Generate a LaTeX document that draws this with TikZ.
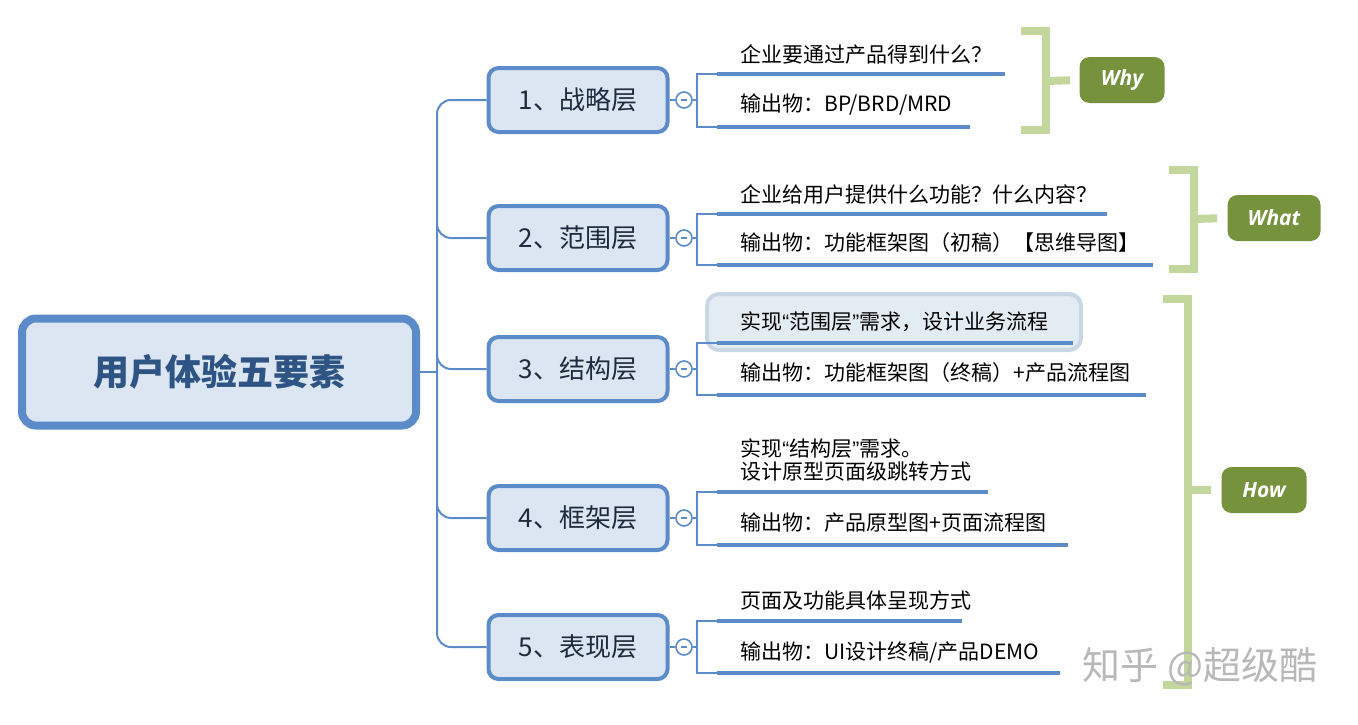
\documentclass[tikz,border=0pt]{standalone}
\usepackage{fontspec}
\setmainfont{Noto Sans CJK SC}
\newfontfamily\tagfont{Open Sans}
\newfontfamily\qfont{Liberation Sans}

\definecolor{bline}{HTML}{5B8CC9}
\definecolor{bfill}{HTML}{DCE6F2}
\definecolor{rtext}{HTML}{2E5484}
\definecolor{btext}{HTML}{1E2B3C}
\definecolor{gline}{HTML}{C3D69B}
\definecolor{gfill}{HTML}{76923C}
\definecolor{hfill}{HTML}{E4ECF3}
\definecolor{hline}{HTML}{C9D7E4}
\definecolor{wmark}{HTML}{B8B8B8}

\tikzstyle{r} = [draw = bline, line width = 4pt, fill = bfill, rounded corners = 7pt, minimum width = 197pt, minimum height = 53.5pt, text = rtext, font = \fontsize{18}{20}\selectfont\bfseries]
\tikzstyle{b} = [draw = bline, line width = 2pt, fill = bfill, rounded corners = 5pt, minimum width = 89.5pt, minimum height = 32pt, text = btext, font = \fontsize{13}{15}\selectfont]
\tikzstyle{o} = [circle, draw = bline, line width = 0.8pt, fill = white, minimum size = 8pt, inner sep = 0pt, path picture = {\draw [bline, line width = 0.6pt] ([xshift = -1.6pt]path picture bounding box.center) -- ([xshift = 1.6pt]path picture bounding box.center);}]
\tikzstyle{t} = [anchor = west, inner sep = 0pt, text = black, font = \fontsize{10.5}{11.5}\selectfont]
\tikzstyle{u} = [draw = bline, line width = 2pt]
\tikzstyle{l} = [draw = bline, line width = 1pt]
\tikzstyle{h} = [draw = hline, line width = 2pt, fill = hfill, rounded corners = 6pt, minimum width = 187pt, minimum height = 28pt]
\tikzstyle{g} = [draw = gline, line width = 4pt]
\tikzstyle{w} = [fill = gfill, rounded corners = 5pt, text = white, minimum width = 42.5pt, minimum height = 23pt, font = \tagfont\bfseries\itshape\fontsize{10.5}{12}\selectfont]

\begin{document}
\begin{tikzpicture}[x = 0.5pt, y = -0.5pt]
    \useasboundingbox (0,0) rectangle (1358,724);

    % root and layers
    \node (root) [r] at (219,372) {用户体验五要素};
    \node (b1) [b] at (578,100) {1、战略层};
    \node (b2) [b] at (578,238) {2、范围层};
    \node (b3) [b] at (578,369) {3、结构层};
    \node (b4) [b] at (578,518) {4、框架层};
    \node (b5) [b] at (578,647) {5、表现层};

    % trunk
    \coordinate (tr) at (437,372);
    \coordinate (t2) at (437,222);
    \coordinate (t3) at (437,355);
    \coordinate (t4) at (437,502);
    \draw [l] (root.east) -- (tr);
    \draw [l, rounded corners = 7pt] (b1.west) -| (tr) |- (b5.west);
    \draw [l, rounded corners = 7pt] (t2) |- (b2.west);
    \draw [l, rounded corners = 7pt] (t3) |- (b3.west);
    \draw [l, rounded corners = 7pt] (t4) |- (b4.west);

    % collapse marks
    \node (c1) [o] at (684,100) {};
    \node (c2) [o] at (684,238) {};
    \node (c3) [o] at (684,369) {};
    \node (c4) [o] at (684,518) {};
    \node (c5) [o] at (684,647) {};

    % highlight behind 3
    \node (hl) [h] at (894,322) {};

    % topics
    \node (s1a) [t] at (740,54) {企业要通过产品得到什么？};
    \node (s1b) [t] at (740,105) {输出物：BP/BRD/MRD};
    \node (s2a) [t] at (740,194) {企业给用户提供什么功能？什么内容？};
    \node (s2b) [t] at (740,243) {输出物：功能框架图（初稿）【思维导图】};
    \node (s3a) [t] at (740,322) {实现{\qfont“}范围层{\qfont”}需求，设计业务流程};
    \node (s3b) [t] at (740,373) {输出物：功能框架图（终稿）+产品流程图};
    \node (s4a) [t, align = left] at (740,460) {实现{\qfont“}结构层{\qfont”}需求。\\设计原型页面级跳转方式};
    \node (s4b) [t] at (740,523) {输出物：产品原型图+页面流程图};
    \node (s5a) [t] at (740,600) {页面及功能具体呈现方式};
    \node (s5b) [t] at (740,652) {输出物：UI设计终稿/产品DEMO};

    % underlines
    \coordinate (a1) at (717,74);   \coordinate (a1e) at (1005,74);
    \coordinate (d1) at (717,127);  \coordinate (d1e) at (970,127);
    \coordinate (a2) at (717,214);  \coordinate (a2e) at (1107,214);
    \coordinate (d2) at (717,265);  \coordinate (d2e) at (1153,265);
    \coordinate (a3) at (717,343);  \coordinate (a3e) at (1073,343);
    \coordinate (d3) at (717,395);  \coordinate (d3e) at (1146,395);
    \coordinate (a4) at (717,492);  \coordinate (a4e) at (988,492);
    \coordinate (d4) at (717,545);  \coordinate (d4e) at (1068,545);
    \coordinate (a5) at (717,621);  \coordinate (a5e) at (962,621);
    \coordinate (d5) at (717,673);  \coordinate (d5e) at (1060,673);
    \foreach \i in {1,...,5}
    {
        \draw [u] (a\i) -- (a\i e);
        \draw [u] (d\i) -- (d\i e);
    }

    % small brackets
    \foreach \i/\y in {1/100, 2/238, 3/369, 4/518, 5/647}
    {
        \coordinate (k\i) at (697,\y);
        \draw [l] (b\i.east) -- (c\i);
        \draw [l] (c\i) -- (k\i);
        \draw [l] (a\i) -| (k\i) |- (d\i);
    }

    % why / what / how
    \node (why) [w] at (1122,80) {Why};
    \node (what) [w, minimum width = 46.5pt] at (1274,218) {What};
    \node (how) [w] at (1264,490) {How};
    \coordinate (gw) at (1046,81);
    \coordinate (gt) at (1194,219);
    \coordinate (gh) at (1188,490);
    \draw [g] (1021,31) -| (gw) |- (1021,130);
    \draw [g] (1169,170) -| (gt) |- (1169,269);
    \draw [g] (1163,299) -| (gh) |- (1163,685);
    \draw [g, shorten > = 4.5pt] (gw) -- (why.west);
    \draw [g, shorten > = 5pt] (gt) -- (what.west);
    \draw [g, shorten > = 5pt] (gh) -- (how.west);

    \node (wm) [text = wmark, font = \fontsize{19}{20}\selectfont] at (1200,667) {知乎 @超级酷};
\end{tikzpicture}
\end{document}
